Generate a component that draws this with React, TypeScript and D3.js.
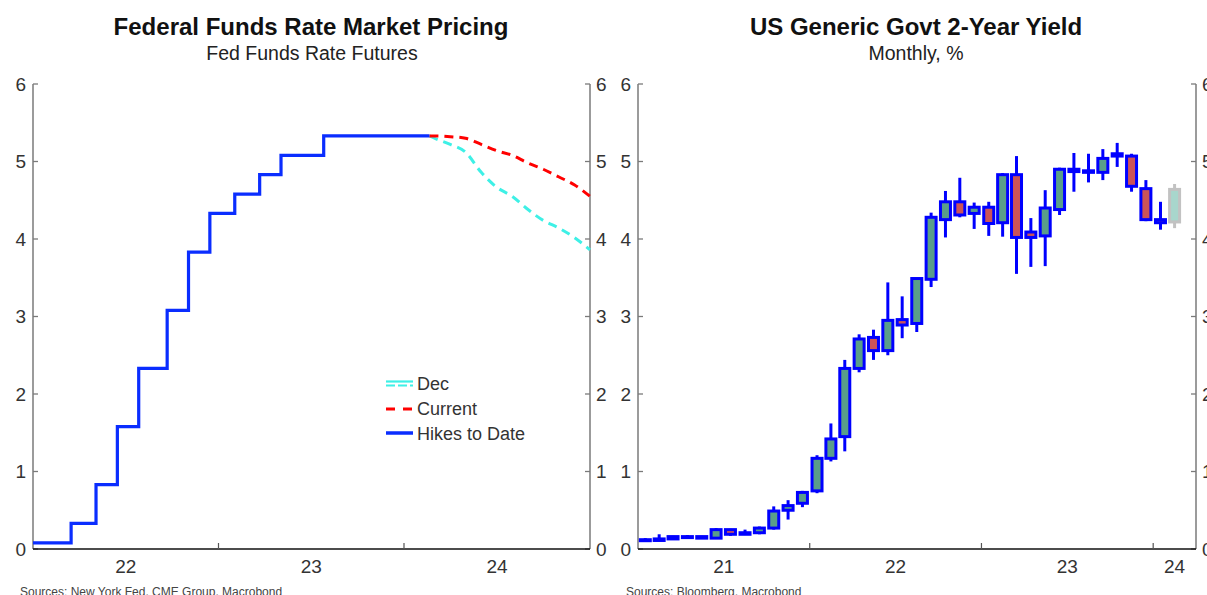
import React from 'react';
import * as d3 from 'd3';

// ---------- Left chart data (Fed funds) ----------
const hikeDates = ['2022-01-01', '2022-03-17', '2022-05-05', '2022-06-16', '2022-07-28', '2022-09-22', '2022-11-03', '2022-12-15', '2023-02-02', '2023-03-23', '2023-05-04', '2023-07-27', '2024-02-20'];
const hikeRates = [0.08, 0.33, 0.83, 1.58, 2.33, 3.08, 3.83, 4.33, 4.58, 4.83, 5.08, 5.33, 5.33];

const futureDates = ['2024-02-20', '2024-03-01', '2024-04-01', '2024-05-01', '2024-06-01', '2024-07-01', '2024-08-01', '2024-09-01', '2024-10-01', '2024-11-01', '2024-12-01', '2025-01-01'];
const currentPricing = [5.33, 5.33, 5.32, 5.30, 5.22, 5.14, 5.08, 4.98, 4.90, 4.80, 4.70, 4.55];
const decPricing = [5.33, 5.30, 5.22, 5.12, 4.86, 4.67, 4.55, 4.38, 4.24, 4.14, 4.02, 3.86];

const leftYearLabels = ['22', '23', '24'];
const rightYearLabels = ['21', '22', '23', '24'];
const yTicks = [0, 1, 2, 3, 4, 5, 6];

// ---------- Right chart data (2Y yield monthly OHLC) ----------
const candleMonths = [
  '2021-01', '2021-02', '2021-03', '2021-04', '2021-05', '2021-06', '2021-07', '2021-08', '2021-09', '2021-10', '2021-11', '2021-12',
  '2022-01', '2022-02', '2022-03', '2022-04', '2022-05', '2022-06', '2022-07', '2022-08', '2022-09', '2022-10', '2022-11', '2022-12',
  '2023-01', '2023-02', '2023-03', '2023-04', '2023-05', '2023-06', '2023-07', '2023-08', '2023-09', '2023-10', '2023-11', '2023-12',
  '2024-01', '2024-02',
];
const opens = [0.12, 0.11, 0.13, 0.16, 0.16, 0.14, 0.25, 0.19, 0.21, 0.27, 0.50, 0.59, 0.75, 1.17, 1.45, 2.33, 2.73, 2.56, 2.96, 2.91, 3.48, 4.25, 4.48, 4.33, 4.41, 4.21, 4.83, 4.09, 4.04, 4.38, 4.87, 4.88, 4.86, 5.07, 5.07, 4.65, 4.25, 4.22];
const highs = [0.14, 0.19, 0.17, 0.18, 0.17, 0.27, 0.26, 0.25, 0.29, 0.55, 0.63, 0.75, 1.21, 1.62, 2.44, 2.77, 2.83, 3.44, 3.26, 3.49, 4.34, 4.62, 4.79, 4.47, 4.48, 4.85, 5.07, 4.27, 4.63, 4.92, 5.11, 5.10, 5.16, 5.24, 5.10, 4.76, 4.48, 4.71];
const lows = [0.11, 0.10, 0.12, 0.15, 0.14, 0.14, 0.17, 0.18, 0.19, 0.25, 0.38, 0.54, 0.72, 1.13, 1.26, 2.28, 2.44, 2.50, 2.72, 2.80, 3.38, 4.02, 4.28, 4.13, 4.04, 4.03, 3.55, 3.64, 3.65, 4.31, 4.61, 4.73, 4.76, 4.93, 4.61, 4.23, 4.12, 4.14];
const closes = [0.11, 0.13, 0.16, 0.16, 0.14, 0.25, 0.19, 0.21, 0.27, 0.49, 0.56, 0.73, 1.17, 1.42, 2.33, 2.71, 2.56, 2.95, 2.89, 3.49, 4.28, 4.48, 4.31, 4.41, 4.20, 4.83, 4.02, 4.02, 4.40, 4.90, 4.90, 4.86, 5.04, 5.10, 4.68, 4.25, 4.21, 4.64];
const provisionalIndex = 37;

// ---------- Layout ----------
const W = 1207;
const H = 595;
const FONT = '"Liberation Sans", Arial, Helvetica, sans-serif';
const parseDay = d3.timeParse('%Y-%m-%d');
const parseMonth = d3.timeParse('%Y-%m');

const yScale = d3.scaleLinear().domain([0, 6]).range([549, 84]);
const xL = d3.scaleTime().domain([new Date(2022, 0, 1), new Date(2025, 0, 1)]).range([33, 590]);
const xR = d3.scaleTime().domain([new Date(2021, 0, 1), new Date(2024, 3, 1)]).range([638, 1196]);

const BLUE = '#0a2dff';
const CANDLE_BLUE = '#0000ff';
const GREEN = '#5a9e8a';
const RED = '#cc5458';

function Axes({ x, labels, firstYear }: { x: d3.ScaleTime<number, number>; labels: string[]; firstYear: number }) {
  const [x0, x1] = x.range();
  const [d0, d1] = x.domain();
  const yearTicks = d3.timeYear.range(d3.timeYear.offset(d0, 1), d1);
  return (
    <g>
      {/* vertical axes */}
      <line x1={x0} x2={x0} y1={yScale(6)} y2={yScale(0)} stroke="#7a7a7a" strokeWidth={1.5} />
      <line x1={x1} x2={x1} y1={yScale(6)} y2={yScale(0)} stroke="#7a7a7a" strokeWidth={1.5} />
      {yTicks.map((t) => (
        <g key={t}>
          <line x1={x0} x2={x0 + 5} y1={yScale(t)} y2={yScale(t)} stroke="#7a7a7a" strokeWidth={1.3} />
          <line x1={x1 - 5} x2={x1} y1={yScale(t)} y2={yScale(t)} stroke="#7a7a7a" strokeWidth={1.3} />
          <text x={x0 - 7} y={yScale(t)} dy="0.35em" textAnchor="end" fontSize={19} fill="#333" fontFamily={FONT}>{t}</text>
          <text x={x1 + 6} y={yScale(t)} dy="0.35em" textAnchor="start" fontSize={19} fill="#333" fontFamily={FONT}>{t}</text>
        </g>
      ))}
      {/* bottom axis */}
      <line x1={x0} x2={x1} y1={yScale(0)} y2={yScale(0)} stroke="#111" strokeWidth={1.6} />
      {yearTicks.map((d, i) => (
        <line key={i} x1={x(d)} x2={x(d)} y1={yScale(0)} y2={yScale(0) - 6} stroke="#555" strokeWidth={1.2} />
      ))}
      {labels.map((lab, i) => {
        const a = new Date(firstYear + i, 0, 1);
        const b = new Date(firstYear + i + 1, 0, 1);
        const xa = Math.max(x(a), x0);
        const xb = Math.min(x(b), x1);
        return (
          <text key={lab} x={(xa + xb) / 2} y={573} textAnchor="middle" fontSize={19} fill="#333" fontFamily={FONT}>{lab}</text>
        );
      })}
    </g>
  );
}

function LeftChart() {
  const hikes = hikeDates.map((d, i) => ({ d: parseDay(d) as Date, v: hikeRates[i] }));
  const cur = futureDates.map((d, i) => ({ d: parseDay(d) as Date, v: currentPricing[i] }));
  const dec = futureDates.map((d, i) => ({ d: parseDay(d) as Date, v: decPricing[i] }));
  const stepLine = d3.line<{ d: Date; v: number }>().x((p) => xL(p.d)).y((p) => yScale(p.v)).curve(d3.curveStepAfter);
  const smooth = d3.line<{ d: Date; v: number }>().x((p) => xL(p.d)).y((p) => yScale(p.v)).curve(d3.curveMonotoneX);
  const lx = 386;
  return (
    <g>
      <text x={311} y={35} textAnchor="middle" fontSize={24} fontWeight="bold" fill="#111" fontFamily={FONT}>Federal Funds Rate Market Pricing</text>
      <text x={312} y={60} textAnchor="middle" fontSize={19.5} fill="#222" fontFamily={FONT}>Fed Funds Rate Futures</text>
      <Axes x={xL} labels={leftYearLabels} firstYear={2022} />
      <path d={smooth(dec) || ''} fill="none" stroke="#3ef0e6" strokeWidth={3} strokeDasharray="9,6" />
      <path d={smooth(cur) || ''} fill="none" stroke="#ff0000" strokeWidth={3} strokeDasharray="9,6" />
      <path d={stepLine(hikes) || ''} fill="none" stroke={BLUE} strokeWidth={3.2} />
      {/* legend */}
      <line x1={lx} x2={lx + 27} y1={381.5} y2={381.5} stroke="#3ef0e6" strokeWidth={2.2} />
      <line x1={lx} x2={lx + 27} y1={385.5} y2={385.5} stroke="#3ef0e6" strokeWidth={2.2} strokeDasharray="9,3" />
      <text x={417} y={390} fontSize={18} fill="#333" fontFamily={FONT}>Dec</text>
      <line x1={lx} x2={lx + 27} y1={409} y2={409} stroke="#ff0000" strokeWidth={3} strokeDasharray="9,8" />
      <text x={417} y={415} fontSize={18} fill="#333" fontFamily={FONT}>Current</text>
      <line x1={lx} x2={lx + 27} y1={433} y2={433} stroke={BLUE} strokeWidth={3.5} />
      <text x={417} y={440} fontSize={18} fill="#333" fontFamily={FONT}>Hikes to Date</text>
      <text x={20} y={596} fontSize={12} fill="#444" fontFamily={FONT}>Sources: New York Fed, CME Group, Macrobond</text>
    </g>
  );
}

function RightChart() {
  const bw = 10;
  return (
    <g>
      <text x={916} y={35} textAnchor="middle" fontSize={24} fontWeight="bold" fill="#111" fontFamily={FONT}>US Generic Govt 2-Year Yield</text>
      <text x={916} y={60} textAnchor="middle" fontSize={19.5} fill="#222" fontFamily={FONT}>Monthly, %</text>
      <Axes x={xR} labels={rightYearLabels} firstYear={2021} />
      {candleMonths.map((m, i) => {
        const start = parseMonth(m) as Date;
        const end = d3.timeMonth.offset(start, 1);
        const cx = (xR(start) + xR(end)) / 2;
        const o = opens[i];
        const c = closes[i];
        const top = yScale(Math.max(o, c));
        const bot = yScale(Math.min(o, c));
        const prov = i === provisionalIndex;
        const edge = prov ? '#c2c2c2' : CANDLE_BLUE;
        const fill = prov ? '#a8d6cc' : c >= o ? GREEN : RED;
        return (
          <g key={m}>
            <line x1={cx} x2={cx} y1={yScale(highs[i])} y2={yScale(lows[i])} stroke={edge} strokeWidth={3} />
            <rect x={cx - bw / 2} y={top} width={bw} height={Math.max(bot - top, 1)} fill={fill} stroke={edge} strokeWidth={3} />
          </g>
        );
      })}
      <text x={626} y={596} fontSize={12} fill="#444" fontFamily={FONT}>Sources: Bloomberg, Macrobond</text>
    </g>
  );
}

export default function App() {
  return (
    <svg width={W} height={H} viewBox={`0 0 ${W} ${H}`} style={{ position: 'absolute', left: 0, top: 0, background: '#fff' }}>
      <rect x={0} y={0} width={W} height={H} fill="#fff" />
      <LeftChart />
      <RightChart />
    </svg>
  );
}
